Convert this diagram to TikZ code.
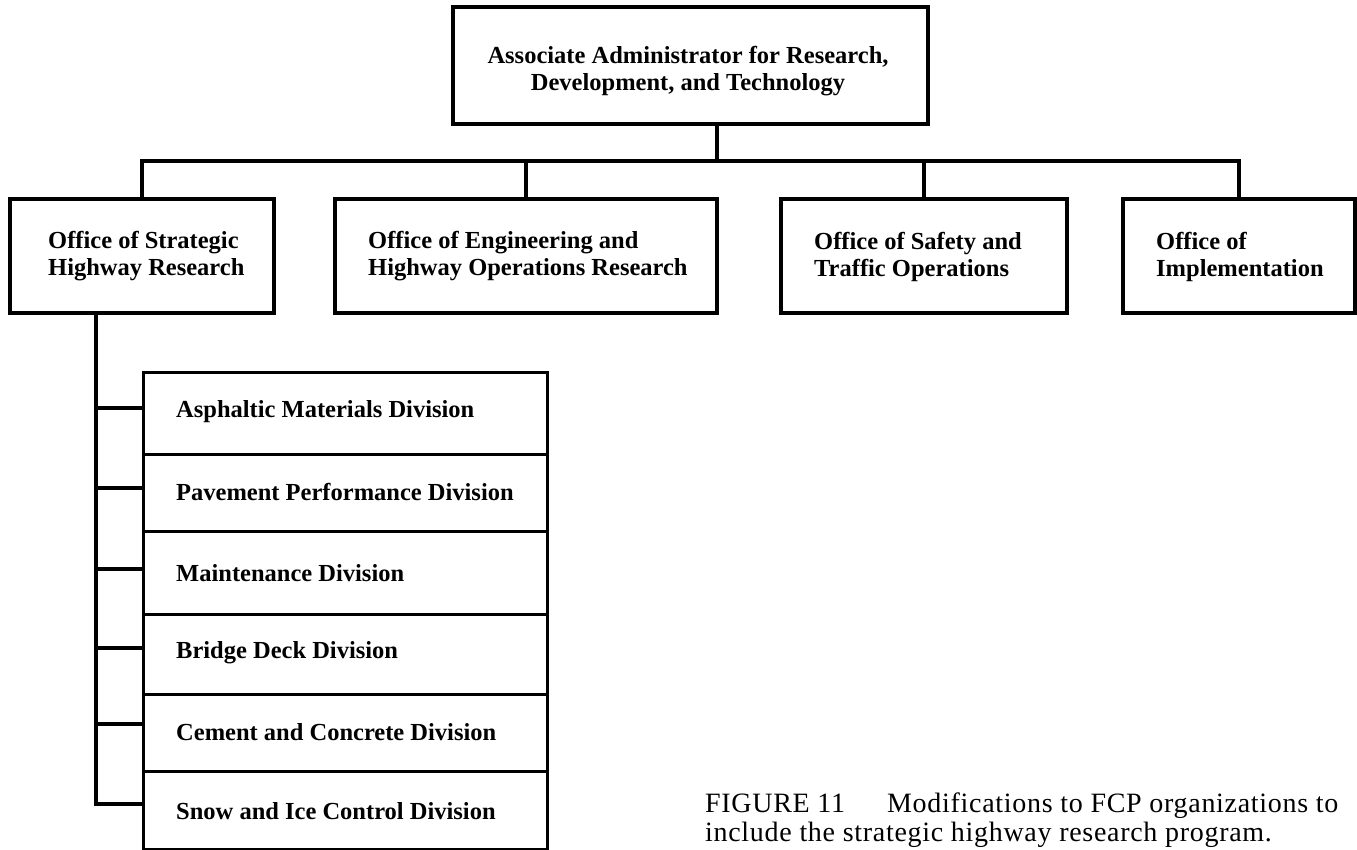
\documentclass[tikz,border=0pt]{standalone}
\usepackage{fontspec}
\setmainfont{Liberation Serif}
\begin{document}
\begin{tikzpicture}[x=1pt,y=-1pt,
  wire/.style={line width=3.4pt, line cap=rect},
  orgbox/.style={draw, line width=3.4pt, inner sep=0pt, minimum width=#1},
  boxtext/.style={font=\bfseries\fontsize{24.5}{27}\selectfont, inner sep=0pt},
  captext/.style={font=\fontsize{28}{29}\selectfont\addfontfeature{LetterSpace=2.5}, inner sep=0pt, anchor=base west}]
\useasboundingbox (0,0) rectangle (1357,850);

% head office
\node[orgbox=475pt, minimum height=117pt] (top) at (690.5,65.5) {};
\node[boxtext, align=center] (toptext) at (688,71.5)
  {Associate Administrator for Research,\\Development, and Technology};

% four offices
\node[orgbox=264pt, minimum height=114pt] (offA) at (142,256) {};
\node[orgbox=382pt, minimum height=114pt] (offB) at (526,256) {};
\node[orgbox=286pt, minimum height=114pt] (offC) at (924,256) {};
\node[orgbox=232pt, minimum height=114pt] (offD) at (1239,256) {};
\node[boxtext, align=left, anchor=west] (txtA) at (48,256.5) {Office of Strategic\\Highway Research};
\node[boxtext, align=left, anchor=west] (txtB) at (368,256.5) {Office of Engineering and\\Highway Operations Research};
\node[boxtext, align=left, anchor=west] (txtC) at (814,256.5) {Office of Safety and\\Traffic Operations};
\node[boxtext, align=left, anchor=west] (txtD) at (1156,256.5) {Office of\\Implementation};

% bus between the head office and the offices
\coordinate (hub) at (717,161);
\draw[wire] (top.south -| hub) -- (hub);
\draw[wire] (offA.north |- hub) -- (offD.north |- hub);
\foreach \o in {offA,offB,offC,offD}
  \draw[wire] (\o.north |- hub) -- (\o.north);

% divisions of the strategic highway research office
\foreach \n/\ya/\yb in {1/371/453, 2/453/530, 3/530/613, 4/613/693, 5/693/770, 6/770/848}
  \node[orgbox=404pt, minimum height={\yb-\ya}, anchor=north west] (div\n) at (142,\ya) {};
\foreach \n/\ty/\label in {1/412/Asphaltic Materials Division,
                           2/492/Pavement Performance Division,
                           3/573/Maintenance Division,
                           4/653/Bridge Deck Division,
                           5/732/Cement and Concrete Division,
                           6/811/Snow and Ice Control Division}
  \node[boxtext, anchor=west] (dtxt\n) at (176,\ty) {\label};
\foreach \n/\ty in {1/408, 2/488, 3/569, 4/648, 5/724, 6/804}
  \coordinate (tick\n) at (96,\ty);

\draw[wire] (offA.south -| tick1) -- (tick6);
\foreach \n in {1,...,6}
  \draw[wire] (tick\n) -- (div\n.west |- tick\n);

% caption
\node[captext] (cap1) at (705,812) {FIGURE 11\hspace{1.5em}Modifications to FCP organizations to};
\node[captext] (cap2) at (705,841) {include the strategic highway research program.};
\end{tikzpicture}
\end{document}
